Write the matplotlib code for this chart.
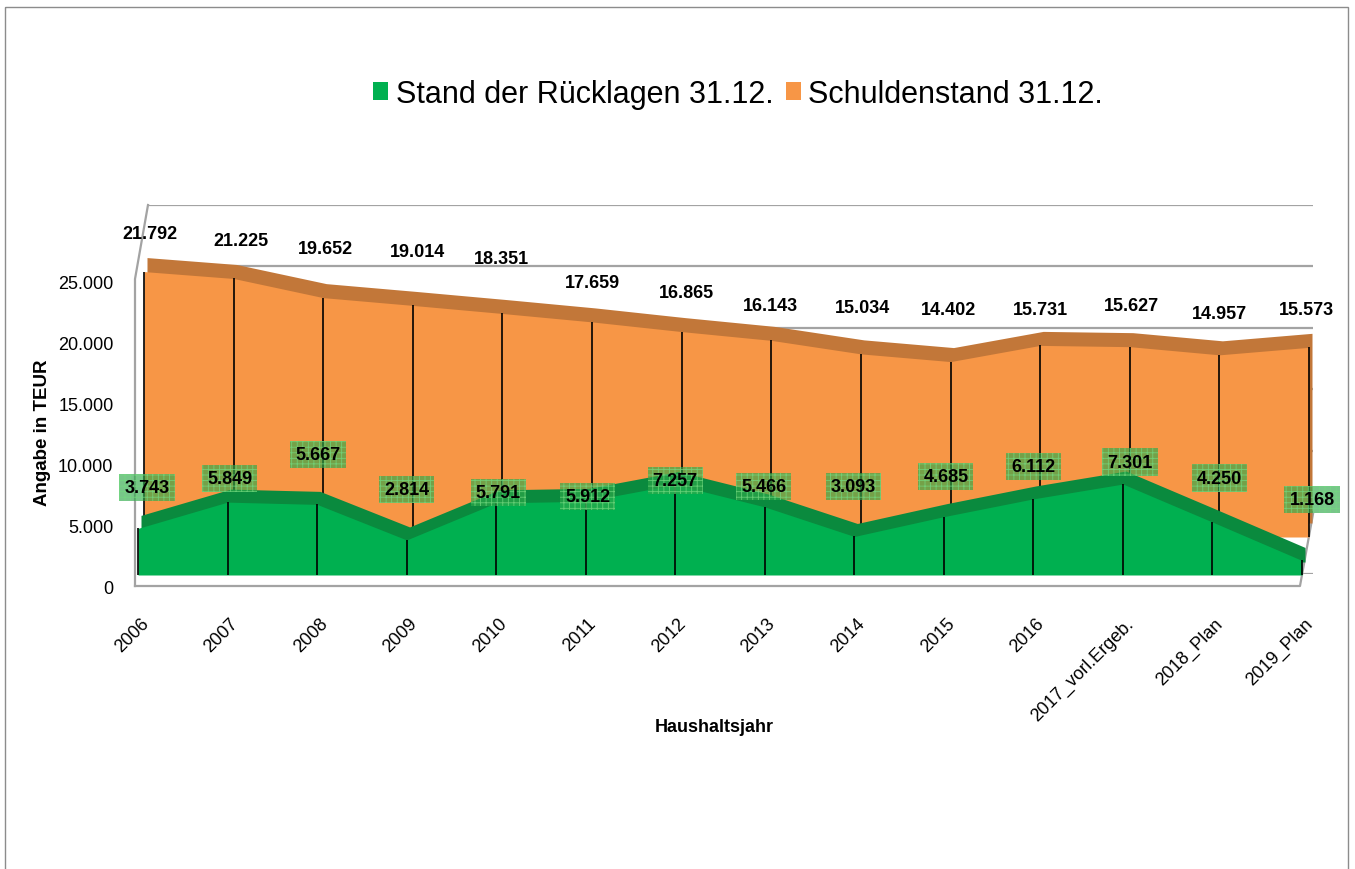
import matplotlib
matplotlib.use('Agg')
import matplotlib.pyplot as plt
import matplotlib.transforms as mtransforms
from matplotlib.patches import Patch, Rectangle
from matplotlib.lines import Line2D

plt.rcParams['font.family'] = ['Liberation Sans', 'DejaVu Sans']
plt.rcParams['hatch.linewidth'] = 0.6

# ---------------- data ----------------
categories = ['2006', '2007', '2008', '2009', '2010', '2011', '2012', '2013',
              '2014', '2015', '2016', '2017_vorl.Ergeb.', '2018_Plan', '2019_Plan']
ruecklagen = [3743, 5849, 5667, 2814, 5791, 5912, 7257, 5466, 3093, 4685, 6112, 7301, 4250, 1168]
schulden = [21792, 21225, 19652, 19014, 18351, 17659, 16865, 16143, 15034, 14402, 15731, 15627, 14957, 15573]
y_ticks = [0, 5000, 10000, 15000, 20000, 25000]
y_max = 30000
series_names = ['Stand der Rücklagen 31.12.', 'Schuldenstand 31.12.']

# ---------------- layout / style ----------------
W, H = 1355, 870
GREEN, GREEN_SIDE = '#00b050', '#0a8a3e'
ORANGE, ORANGE_SIDE = '#f79646', '#c27739'
WALL = '#a3a3a3'

# label nudges (pixels, relative to the front top corner of each value)
orange_label_dx = [6, 7, 2, 5, -1, 0, 5, -1, 2, -2, 0, 2, 0, -3]
orange_label_dy = [38, 38, 49, 54, 55, 39, 39, 35, 46, 52, 36, 41, 41, 38]
green_label_dx = [9, 2, 1, 0, 2, 2, 0, -1, -1, 2, 0, 7, 7, 10]
green_label_dy = [41, 24, 50, 50, 10, 5, 4, 20, 50, 40, 32, 22, 44, 61]


def fmt(v):
    return f'{v:,}'.replace(',', '.')


fig = plt.figure(figsize=(W / 100, H / 100), dpi=100)


def px_axes(left, right, base, top, z):
    ax = fig.add_axes([left / W, 1 - base / H, (right - left) / W, (base - top) / H], zorder=z)
    ax.patch.set_visible(False)
    for s in ax.spines.values():
        s.set_visible(False)
    ax.set_xlim(0, len(categories) - 1)
    ax.set_ylim(0, y_max)
    ax.set_autoscale_on(False)
    ax.tick_params(length=0)
    return ax


# back wall with gridlines
ax_back = px_axes(148, 1313, 574.5, 206, 0)
ax_back.set_xticks([])
ax_back.set_yticks([])
ax_back.hlines(y_ticks + [y_max], 0, len(categories) - 1, color=WALL, lw=1.6)

# front reference (value axis labels)
ax_f = px_axes(135, 1300, 587, 587 - y_max * 0.012167, 0.5)
ax_f.set_xticks([])
ax_f.set_yticks(y_ticks)
ax_f.set_yticklabels([fmt(v) for v in y_ticks], fontsize=13)
ax_f.tick_params(axis='y', pad=15.5)

# orange series (back row)
ax_o = px_axes(144, 1309, 538, 538 - y_max * 0.01218, 1)
ax_o.set_xticks([])
ax_o.set_yticks([])
# green series (front row)
ax_g = px_axes(138, 1302, 576, 576 - y_max * 0.01246, 2)
ax_g.set_yticks([])


def prism(ax, values, front, side, depth):
    xs = list(range(len(values)))
    off = mtransforms.offset_copy(ax.transData, fig=fig, x=depth[0], y=depth[1], units='dots')
    ax.fill_between(xs, 0, values, color=side, lw=0, transform=off, clip_on=False)
    ax.fill_between(xs, 0, values, color=front, lw=0, clip_on=False)
    ax.vlines(xs, 0, values, color='black', lw=1.2, clip_on=False)


prism(ax_o, schulden, ORANGE, ORANGE_SIDE, (3, 14))
prism(ax_g, ruecklagen, GREEN, GREEN_SIDE, (3, 13))

for i, v in enumerate(schulden):
    ax_o.annotate(fmt(v), xy=(i, v), xytext=(orange_label_dx[i] * 0.72, orange_label_dy[i] * 0.72),
                  textcoords='offset points', ha='center', va='center', fontsize=13,
                  fontweight='bold', color='black', annotation_clip=False)

for i, v in enumerate(ruecklagen):
    ax_g.annotate(fmt(v), xy=(i, v), xytext=(green_label_dx[i] * 0.72, green_label_dy[i] * 0.72),
                  textcoords='offset points', ha='center', va='center', fontsize=13,
                  fontweight='bold', color='black', annotation_clip=False, zorder=10,
                  bbox=dict(boxstyle='square,pad=0.28', facecolor=(0.18, 0.66, 0.29, 0.65),
                            edgecolor=(0.45, 0.85, 0.5, 0.8), lw=0, hatch='+++'))

# category labels
ax_g.set_xticks(range(len(categories)))
ax_g.set_xticklabels(categories, fontsize=13, rotation=45, ha='right', va='top',
                     rotation_mode='anchor')
ax_g.tick_params(axis='x', pad=28.5)
shift = mtransforms.ScaledTranslation(2 / 100, 0, fig.dpi_scale_trans)
for lab in ax_g.get_xticklabels():
    lab.set_transform(lab.get_transform() + shift)

# wall / floor edges and outer border
ov = fig.add_axes([0, 0, 1, 1], zorder=0.6)
ov.set_xlim(0, W)
ov.set_ylim(H, 0)
ov.axis('off')
ov.add_line(Line2D([135, 135, 148], [587, 280, 206], color=WALL, lw=1.6))
ov.add_line(Line2D([135, 1300, 1313], [587, 587, 515], color=WALL, lw=1.6))
ov.add_patch(Rectangle((5, 8), 1343, 880, fill=False, edgecolor='#8c8c8c', lw=1.0))

# titles
fig.text(43 / W, 1 - 433 / H, 'Angabe in TEUR', rotation=90, ha='center', va='center',
         fontsize=13.5, fontweight='bold')
fig.text(714 / W, 1 - 728 / H, 'Haushaltsjahr', ha='center', va='center',
         fontsize=13, fontweight='bold')

handles = [Patch(facecolor=GREEN, label=series_names[0]),
           Patch(facecolor=ORANGE, label=series_names[1])]
fig.legend(handles=handles, loc='center', bbox_to_anchor=(738 / W, 1 - 95 / H), ncol=2,
           frameon=False, fontsize=22, handlelength=0.5, handleheight=0.5,
           handletextpad=0.25, columnspacing=0.4, borderpad=0)

fig.savefig('out.png', dpi=100)
